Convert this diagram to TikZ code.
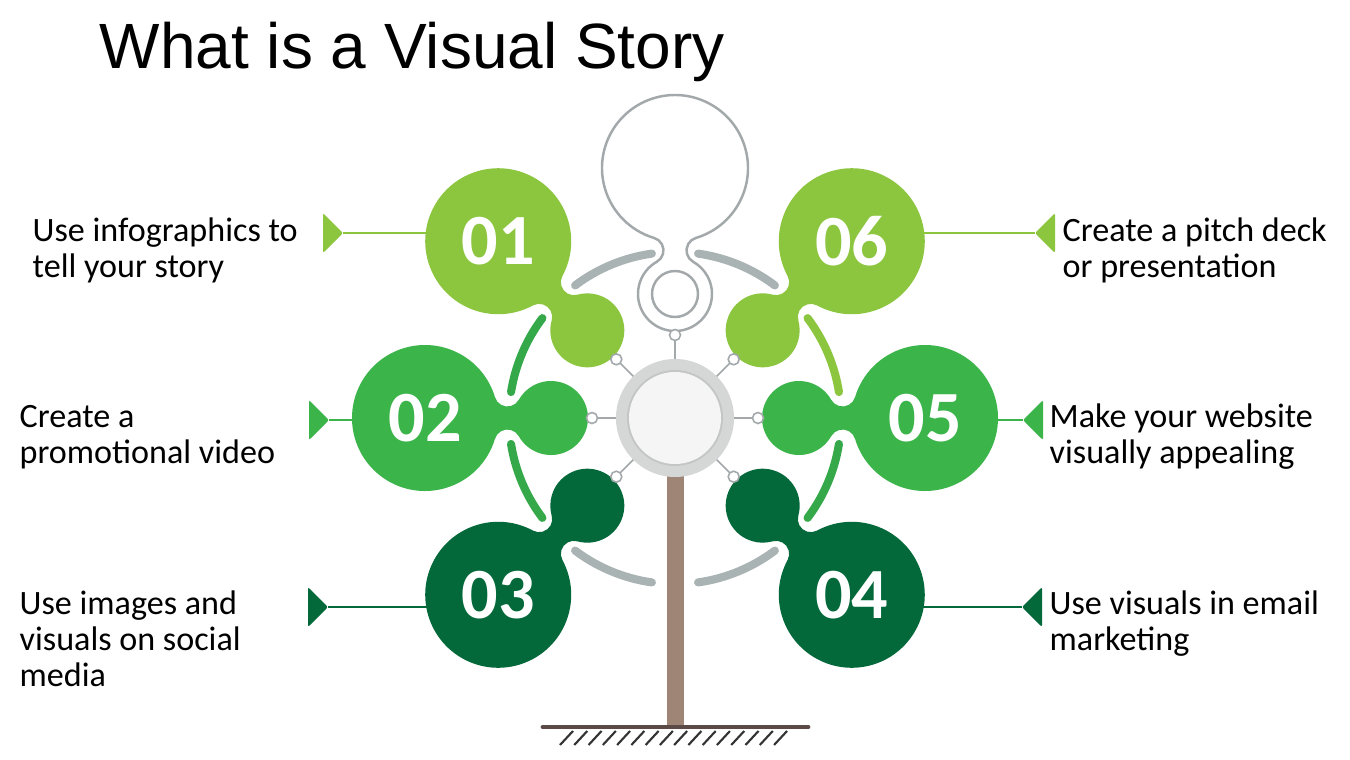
\documentclass[tikz,border=0pt]{standalone}
\usepackage{fontspec}
\setmainfont{Carlito}
\newfontfamily\titlefont{Liberation Sans}
\definecolor{gLight}{HTML}{8CC63F}
\definecolor{gMid}{HTML}{3BB44A}
\definecolor{gArc}{HTML}{35A84A}
\definecolor{gDark}{HTML}{03693A}
\definecolor{arcGray}{HTML}{A9B3B3}
\definecolor{lineGray}{HTML}{A3A8AB}
\definecolor{ringGray}{HTML}{D5D6D6}
\definecolor{ringEdge}{HTML}{C4C6C6}
\definecolor{trunkBrown}{HTML}{9E8576}
\definecolor{groundBrown}{HTML}{5B4A45}
\tikzset{
  labeltext/.style={anchor=base west, inner sep=0, font=\fontsize{9.7}{10.25}\selectfont},
  numtext/.style={text=white, font=\bfseries\fontsize{20.5}{20}\selectfont, inner sep=0},
  arcline/.style={line width=2.3pt, line cap=round},
  pointer/.style={line width=0.45pt},
  tri/.style={rounded corners=0.6pt},
  hubdot/.style={circle, fill=white, draw=lineGray, line width=0.45pt, minimum size=0.11cm, inner sep=0},
  pics/blob/.style={code={
    \path[pic actions] (250,0) ++(196.57:73)
      arc[start angle=196.57, end angle=523.43, radius=73]
      arc[start angle=-16.57, end angle=-150.63, radius=13]
      arc[start angle=29.37, end angle=330.63, radius=37]
      arc[start angle=150.63, end angle=16.57, radius=13] -- cycle;
  }}
}
\begin{document}
\begin{tikzpicture}[x=0.01cm, y=0.01cm]
\useasboundingbox (0,0) rectangle (1350,759);
\fill[white] (0,0) rectangle (1350,759);

\coordinate (hub) at (675,341);
\foreach \a/\n in {135/01,180/02,225/03,45/06,0/05,-45/04}{
  \coordinate (b\n) at ([shift={(\a:250)}]hub);
}
\foreach \a/\n in {90/k,135/1,180/2,225/3,45/6,0/5,-45/4}{
  \coordinate (c\n) at ([shift={(\a:83)}]hub);
}

% trunk and ground
\fill[trunkBrown] (667,32) rectangle (684,300);
\foreach \k in {0,...,15}{
  \draw[black!80, line width=0.6pt] ({573+14.27*\k},28) -- ++(-13,-14);
}
\draw[groundBrown, line width=1.4pt, line cap=round] (543,32) -- (808,32);

% pointers (triangle to circle)
\coordinate (t01) at (343,526);
\coordinate (t02) at (329,339);
\coordinate (t03) at (328,152);
\coordinate (t06) at (1035,526);
\coordinate (t05) at (1023,339);
\coordinate (t04) at (1022,152);
\draw[gLight, pointer] (t01) -- (t01 -| b01);
\draw[gMid, pointer] (t02) -- (t02 -| b02);
\draw[gDark, pointer] (t03) -- (t03 -| b03);
\draw[gLight, pointer] (t06) -- (t06 -| b06);
\draw[gMid, pointer] (t05) -- (t05 -| b05);
\draw[gDark, pointer] (t04) -- (t04 -| b04);
\fill[gLight, tri] (t01) -- ++(-20,20) -- ++(0,-40) -- cycle;
\fill[gMid, tri] (t02) -- ++(-20,20) -- ++(0,-40) -- cycle;
\fill[gDark, tri] (t03) -- ++(-20,20) -- ++(0,-40) -- cycle;
\fill[gLight, tri] (t06) -- ++(20,20) -- ++(0,-40) -- cycle;
\fill[gMid, tri] (t05) -- ++(20,20) -- ++(0,-40) -- cycle;
\fill[gDark, tri] (t04) -- ++(20,20) -- ++(0,-40) -- cycle;

% arcs around the hub
\draw[arcGray, arcline] ([shift={(98:166)}]hub) arc[start angle=98, end angle=127, radius=166];
\draw[arcGray, arcline] ([shift={(53:166)}]hub) arc[start angle=53, end angle=82, radius=166];
\draw[arcGray, arcline] ([shift={(233:166)}]hub) arc[start angle=233, end angle=262, radius=166];
\draw[arcGray, arcline] ([shift={(278:166)}]hub) arc[start angle=278, end angle=307, radius=166];
\draw[gArc, arcline] ([shift={(143:166)}]hub) arc[start angle=143, end angle=171, radius=166];
\draw[gArc, arcline] ([shift={(189:166)}]hub) arc[start angle=189, end angle=217, radius=166];
\draw[gLight, arcline] ([shift={(9:166)}]hub) arc[start angle=9, end angle=37, radius=166];
\draw[gArc, arcline] ([shift={(-37:166)}]hub) arc[start angle=-37, end angle=-9, radius=166];

% radial lines
\foreach \n in {k,1,2,3,4,5,6}{
  \draw[lineGray, pointer] (hub) -- (c\n);
}

% blobs
\pic[fill=gLight, rotate=135] at (hub) {blob};
\pic[fill=gMid, rotate=180] at (hub) {blob};
\pic[fill=gDark, rotate=225] at (hub) {blob};
\pic[fill=gLight, rotate=45] at (hub) {blob};
\pic[fill=gMid, rotate=0] at (hub) {blob};
\pic[fill=gDark, rotate=-45] at (hub) {blob};

% keyhole outline
\pic[fill=white, draw=lineGray, line width=0.7pt, rotate=90] at (hub) {blob};
\draw[lineGray, line width=0.7pt] ([shift={(90:124)}]hub) circle[radius=23];

% magnifier ring
\fill[ringGray] (hub) circle[radius=59];
\fill[ringEdge] (hub) circle[radius=48];
\fill[white!96!black] (hub) circle[radius=46];

% hub dots
\foreach \n in {k,1,2,3,4,5,6}{
  \node[hubdot] (d\n) at (c\n) {};
}

% numbers
\node[numtext] (n01) at (b01) {01};
\node[numtext] (n02) at (b02) {02};
\node[numtext] (n03) at (b03) {03};
\node[numtext] (n06) at (b06) {06};
\node[numtext] (n05) at (b05) {05};
\node[numtext] (n04) at (b04) {04};

% labels
\node[labeltext] (l01) at (32,518) {\begin{tabular}[t]{@{}l@{}}Use infographics to\\tell your story\end{tabular}};
\node[labeltext] (l02) at (19,332) {\begin{tabular}[t]{@{}l@{}}Create a\\promotional video\end{tabular}};
\node[labeltext] (l03) at (19,145) {\begin{tabular}[t]{@{}l@{}}Use images and\\visuals on social\\media\end{tabular}};
\node[labeltext] (l06) at (1062,518) {\begin{tabular}[t]{@{}l@{}}Create a pitch deck\\or presentation\end{tabular}};
\node[labeltext] (l05) at (1049,332) {\begin{tabular}[t]{@{}l@{}}Make your website\\visually appealing\end{tabular}};
\node[labeltext] (l04) at (1049,145) {\begin{tabular}[t]{@{}l@{}}Use visuals in email\\marketing\end{tabular}};

% title
\node[anchor=base west, inner sep=0, font=\titlefont\fontsize{18.2}{20}\selectfont] (title) at (99,691) {What is a Visual Story};
\end{tikzpicture}
\end{document}
